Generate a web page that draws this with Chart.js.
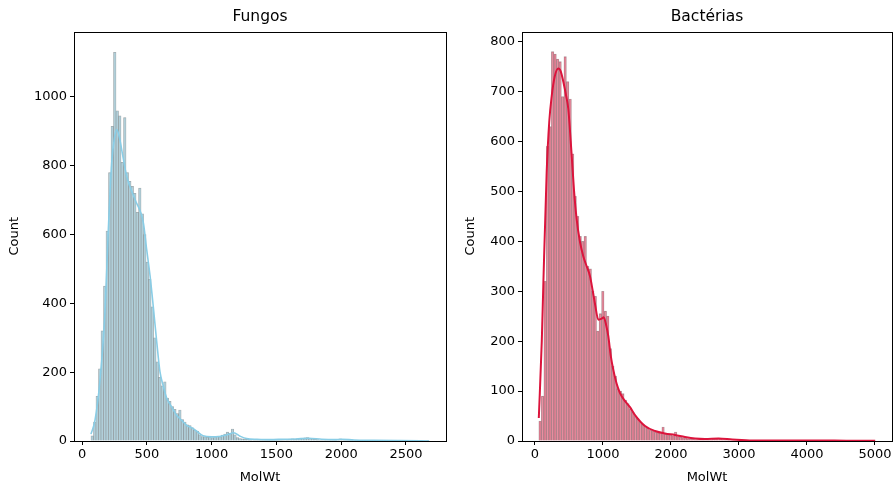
<!DOCTYPE html>
<html>
<head>
<meta charset="utf-8">
<script src="https://cdn.jsdelivr.net/npm/chart.js@4.4.1/dist/chart.umd.min.js"></script>
<style>
  body { margin: 0; background: #fff; }
  #wrap { position: relative; width: 895px; height: 485px; }
  canvas { position: absolute; top: 0; }
  #fungosChart { left: 0; }
  #bacteriasChart { left: 450px; }
</style>
</head>
<body>
<div id="wrap">
  <canvas id="fungosChart" width="456" height="485"></canvas>
  <canvas id="bacteriasChart" width="445" height="485"></canvas>
</div>
<script>
// Fungos: histograma de MolWt (início e largura das classes + contagens)
var fungosBinStart = 69;
var fungosBinWidth = 19.33;
var fungosCounts = [
  15, 55, 130, 210, 320, 450, 610, 780, 915, 1130,
  960, 945, 810, 940, 780, 755, 740, 720, 665, 735,
  660, 600, 520, 470, 390, 300, 230, 185, 160, 172,
  125, 115, 100, 92, 80, 90, 62, 55, 47, 45,
  38, 32, 28, 18, 13, 12, 11, 12, 10, 12,
  14, 12, 17, 20, 26, 22, 35, 18, 10, 7,
  6, 5, 5, 4, 5, 4, 3, 4, 3, 4,
  3, 3, 4, 3, 4, 3, 4, 5, 4, 5,
  6, 5, 6, 7, 8, 9, 10, 8, 7, 5,
  4, 3, 3, 2, 3, 2, 3, 4, 5, 6,
  5, 4, 3, 2, 2, 1, 2, 1, 2, 1,
  1, 2, 1, 1, 0, 1, 1, 0, 1, 0,
  1, 0, 1, 0, 0, 1, 0, 0, 1, 0,
  0, 1, 0, 0, 1
];
// curva KDE
var fungosKdeX = [69, 100, 139, 177, 203, 229, 250, 268, 290, 306, 345, 409, 473, 499, 525, 550, 576, 602, 627, 653, 692, 730, 770, 810, 850, 880, 934, 1000, 1060, 1120, 1170, 1220, 1270, 1350, 1450, 1550, 1650, 1750, 1850, 1950, 2000, 2100, 2250, 2450, 2679];
var fungosKdeY = [20, 60, 178, 373, 614, 809, 880, 905, 880, 847, 769, 702, 635, 556, 480, 390, 290, 200, 160, 125, 99, 75, 60, 45, 38, 30, 15, 12, 13, 18, 24, 14, 7, 5, 4, 5, 6, 8, 5, 4, 5, 3, 2, 1, 0];
var fungosXTicks = [0, 500, 1000, 1500, 2000, 2500];
var fungosYTicks = [0, 200, 400, 600, 800, 1000];

// Bactérias
var bacteriasBinStart = 56;
var bacteriasBinWidth = 36.92;
var bacteriasCounts = [
  40, 90, 320, 590, 630, 780, 775, 765, 760, 690,
  770, 720, 685, 575, 490, 450, 410, 400, 410, 350,
  345, 300, 290, 220, 255, 300, 260, 250, 185, 150,
  130, 105, 100, 95, 82, 75, 65, 58, 50, 45,
  38, 34, 30, 26, 22, 20, 18, 16, 18, 28,
  14, 12, 13, 11, 18, 9, 8, 7, 6, 5,
  4, 4, 3, 3, 3, 2, 3, 2, 3, 4,
  5, 6, 5, 3, 2, 2, 1, 1, 1, 1,
  1, 0, 1, 1, 0, 1, 0, 0, 1, 0,
  1, 0, 0, 1, 0, 0, 1, 0, 0, 0,
  1, 0, 0, 1, 0, 0, 0, 1, 0, 0,
  0, 1, 0, 0, 0, 0, 1, 0, 0, 0,
  0, 1, 0, 0, 0, 0, 0, 1, 0, 0,
  0, 0, 0, 1
];
var bacteriasKdeX = [56, 100, 122, 172, 210, 246, 290, 343, 380, 416, 460, 490, 540, 575, 613, 660, 710, 760, 809, 850, 882, 931, 981, 1010, 1050, 1078, 1115, 1151, 1200, 1250, 1324, 1397, 1471, 1618, 1765, 1912, 2059, 2206, 2353, 2500, 2700, 2900, 3200, 3600, 4000, 4400, 4700, 5003];
var bacteriasKdeY = [46, 200, 310, 539, 640, 691, 730, 746, 740, 720, 690, 665, 571, 500, 444, 400, 370, 350, 330, 300, 275, 243, 245, 248, 230, 210, 170, 143, 115, 96, 80, 68, 52, 30, 20, 15, 12, 8, 5, 4, 5, 3, 1, 1, 1, 1, 0.5, 0.3];
var bacteriasXTicks = [0, 1000, 2000, 3000, 4000, 5000];
var bacteriasYTicks = [0, 100, 200, 300, 400, 500, 600, 700, 800];

// moldura dos eixos (estilo matplotlib, 4 lados)
var boxPlugin = {
  id: 'axesBox',
  afterDraw: function(chart) {
    var a = chart.chartArea;
    var ctx = chart.ctx;
    ctx.save();
    ctx.strokeStyle = '#000';
    ctx.lineWidth = 1;
    ctx.strokeRect(Math.round(a.left) + 0.5, Math.round(a.top) + 0.5,
      Math.round(a.right - a.left), Math.round(a.bottom - a.top));
    ctx.restore();
  }
};

function makeHist(id, cfg) {
  var bars = cfg.counts.map(function(c, i) {
    return { x: cfg.binStart + cfg.binWidth * (i + 0.5), y: c };
  });
  var kde = cfg.kdeX.map(function(x, i) {
    return { x: x, y: cfg.kdeY[i] };
  });
  var tickFont = { family: 'DejaVu Sans', size: 13 };
  var plain = function(v) { return String(v); }; // sem separador de milhar

  return new Chart(document.getElementById(id), {
    type: 'bar',
    data: {
      datasets: [{
        type: 'line',
        data: kde,
        borderColor: cfg.lineColor,
        borderWidth: cfg.lineWidth,
        pointRadius: 0,
        cubicInterpolationMode: 'monotone',
        order: 0
      }, {
        type: 'bar',
        data: bars,
        backgroundColor: cfg.barColor,
        borderColor: cfg.edgeColor,
        borderWidth: 0.5,
        barPercentage: 1,
        categoryPercentage: 1,
        order: 1
      }]
    },
    options: {
      responsive: false,
      animation: false,
      layout: { padding: { right: cfg.padRight } },
      plugins: {
        legend: { display: false },
        tooltip: { enabled: false },
        title: {
          display: true,
          text: cfg.title,
          fullSize: false,
          color: '#000',
          font: { family: 'DejaVu Sans', size: 15.5, weight: 'normal' },
          padding: { top: 8, bottom: 5 }
        }
      },
      scales: {
        x: {
          type: 'linear',
          min: cfg.xMin,
          max: cfg.xMax,
          offset: false,
          border: { display: false },
          grid: { display: true, offset: false, drawOnChartArea: false, drawTicks: true, tickLength: 4, color: '#000' },
          ticks: { color: '#000', font: tickFont, padding: 2, maxRotation: 0, callback: plain },
          title: { display: true, text: 'MolWt', color: '#000', font: tickFont, padding: { top: 3, bottom: 0 } },
          afterBuildTicks: function(scale) {
            scale.ticks = cfg.xTicks.map(function(v) { return { value: v }; });
          },
          afterFit: function(scale) { scale.height = 44; }
        },
        y: {
          min: 0,
          max: cfg.yMax,
          border: { display: false },
          grid: { display: true, drawOnChartArea: false, drawTicks: true, tickLength: 4, color: '#000' },
          ticks: { color: '#000', font: tickFont, padding: 3, callback: plain },
          title: { display: true, text: 'Count', color: '#000', font: tickFont, padding: { top: cfg.yTitlePad, bottom: 0 } },
          afterBuildTicks: function(scale) {
            scale.ticks = cfg.yTicks.map(function(v) { return { value: v }; });
          },
          afterFit: function(scale) { scale.width = cfg.yWidth; }
        }
      }
    },
    plugins: [boxPlugin]
  });
}

makeHist('fungosChart', {
  title: 'Fungos',
  counts: fungosCounts, binStart: fungosBinStart, binWidth: fungosBinWidth,
  kdeX: fungosKdeX, kdeY: fungosKdeY,
  xTicks: fungosXTicks, yTicks: fungosYTicks,
  xMin: -62, xMax: 2809, yMax: 1190,
  barColor: 'rgba(160, 200, 214, 0.75)', edgeColor: 'rgba(95, 95, 95, 0.55)',
  lineColor: '#89cde6', lineWidth: 1.6,
  yWidth: 74, yTitlePad: 7, padRight: 10
});

makeHist('bacteriasChart', {
  title: 'Bactérias',
  counts: bacteriasCounts, binStart: bacteriasBinStart, binWidth: bacteriasBinWidth,
  kdeX: bacteriasKdeX, kdeY: bacteriasKdeY,
  xTicks: bacteriasXTicks, yTicks: bacteriasYTicks,
  xMin: -191, xMax: 5250, yMax: 820,
  barColor: 'rgba(220, 20, 60, 0.45)', edgeColor: 'rgba(90, 90, 90, 0.45)',
  lineColor: '#dc143c', lineWidth: 2,
  yWidth: 72, yTitlePad: 13, padRight: 3
});
</script>
</body>
</html>
